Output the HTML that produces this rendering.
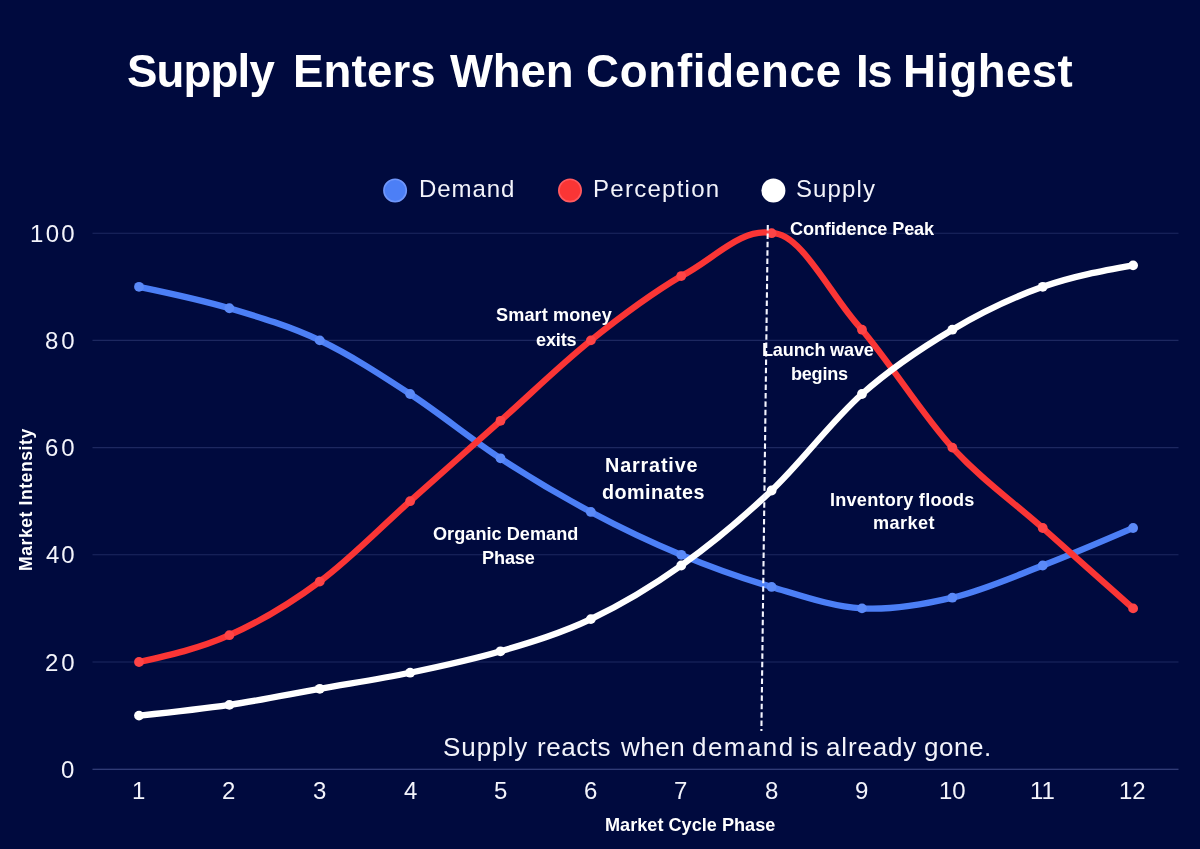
<!DOCTYPE html>
<html><head><meta charset="utf-8"><title>Supply Enters When Confidence Is Highest</title>
<style>
html,body{margin:0;padding:0;background:#000a3e;}
body{width:1200px;height:849px;position:relative;overflow:hidden;font-family:"Liberation Sans",sans-serif;color:#fff;}
.t{position:absolute;white-space:nowrap;line-height:1;transform-origin:0 0;will-change:transform;}
.b{font-weight:bold;}
</style></head><body>
<svg width="1200" height="849" viewBox="0 0 1200 849" style="position:absolute;left:0;top:0">
<line x1="92.5" x2="1178.5" y1="769.20" y2="769.20" stroke="#414d8a" stroke-width="1.1"/>
<line x1="92.5" x2="1178.5" y1="662.00" y2="662.00" stroke="#1d2860" stroke-width="1.1"/>
<line x1="92.5" x2="1178.5" y1="554.80" y2="554.80" stroke="#1d2860" stroke-width="1.1"/>
<line x1="92.5" x2="1178.5" y1="447.60" y2="447.60" stroke="#1d2860" stroke-width="1.1"/>
<line x1="92.5" x2="1178.5" y1="340.40" y2="340.40" stroke="#1d2860" stroke-width="1.1"/>
<line x1="92.5" x2="1178.5" y1="233.20" y2="233.20" stroke="#1d2860" stroke-width="1.1"/>
<path d="M139.00,286.80 C169.12,293.05 199.25,299.31 229.37,308.24 C259.50,317.17 289.62,326.11 319.75,340.40 C349.87,354.69 379.99,374.35 410.12,394.00 C440.24,413.65 470.37,438.67 500.49,458.32 C530.62,477.97 560.74,495.84 590.86,511.92 C620.99,528.00 651.11,542.29 681.24,554.80 C711.36,567.31 741.48,578.03 771.61,586.96 C801.73,595.89 831.86,606.61 861.98,608.40 C892.11,610.19 922.23,604.83 952.35,597.68 C982.48,590.53 1012.60,577.13 1042.73,565.52 C1072.85,553.91 1102.98,540.95 1133.10,528.00" fill="none" stroke="#4c7ff6" stroke-width="6.3" stroke-linecap="round" stroke-linejoin="round"/>
<circle cx="139.00" cy="286.80" r="4.9" fill="#5b8af8"/><circle cx="229.37" cy="308.24" r="4.9" fill="#5b8af8"/><circle cx="319.75" cy="340.40" r="4.9" fill="#5b8af8"/><circle cx="410.12" cy="394.00" r="4.9" fill="#5b8af8"/><circle cx="500.49" cy="458.32" r="4.9" fill="#5b8af8"/><circle cx="590.86" cy="511.92" r="4.9" fill="#5b8af8"/><circle cx="681.24" cy="554.80" r="4.9" fill="#5b8af8"/><circle cx="771.61" cy="586.96" r="4.9" fill="#5b8af8"/><circle cx="861.98" cy="608.40" r="4.9" fill="#5b8af8"/><circle cx="952.35" cy="597.68" r="4.9" fill="#5b8af8"/><circle cx="1042.73" cy="565.52" r="4.9" fill="#5b8af8"/><circle cx="1133.10" cy="528.00" r="4.9" fill="#5b8af8"/>
<path d="M139.00,662.00 C169.12,655.30 199.25,648.60 229.37,635.20 C259.50,621.80 289.62,603.93 319.75,581.60 C349.87,559.27 379.99,528.00 410.12,501.20 C440.24,474.40 470.37,447.60 500.49,420.80 C530.62,394.00 560.74,364.52 590.86,340.40 C620.99,316.28 651.11,293.95 681.24,276.08 C711.36,261.25 741.48,226.95 771.61,233.20 C801.73,232.13 831.86,298.41 861.98,329.68 C892.11,365.41 922.23,414.55 952.35,447.60 C982.48,480.65 1012.60,501.20 1042.73,528.00 C1072.85,554.80 1102.98,581.60 1133.10,608.40" fill="none" stroke="#fa3535" stroke-width="6.3" stroke-linecap="round" stroke-linejoin="round"/>
<circle cx="139.00" cy="662.00" r="4.9" fill="#fe4446"/><circle cx="229.37" cy="635.20" r="4.9" fill="#fe4446"/><circle cx="319.75" cy="581.60" r="4.9" fill="#fe4446"/><circle cx="410.12" cy="501.20" r="4.9" fill="#fe4446"/><circle cx="500.49" cy="420.80" r="4.9" fill="#fe4446"/><circle cx="590.86" cy="340.40" r="4.9" fill="#fe4446"/><circle cx="681.24" cy="276.08" r="4.9" fill="#fe4446"/><circle cx="771.61" cy="233.20" r="4.9" fill="#fe4446"/><circle cx="861.98" cy="329.68" r="4.9" fill="#fe4446"/><circle cx="952.35" cy="447.60" r="4.9" fill="#fe4446"/><circle cx="1042.73" cy="528.00" r="4.9" fill="#fe4446"/><circle cx="1133.10" cy="608.40" r="4.9" fill="#fe4446"/>
<path d="M139.00,715.60 C169.12,712.47 199.25,709.35 229.37,704.88 C259.50,700.41 289.62,694.16 319.75,688.80 C349.87,683.44 379.99,678.97 410.12,672.72 C440.24,666.47 470.37,660.21 500.49,651.28 C530.62,642.35 560.74,633.41 590.86,619.12 C620.99,604.83 651.11,586.96 681.24,565.52 C711.36,544.08 741.48,519.07 771.61,490.48 C801.73,461.89 831.86,420.80 861.98,394.00 C892.11,367.20 922.23,347.55 952.35,329.68 C982.48,311.81 1012.60,297.52 1042.73,286.80 C1072.85,276.08 1102.98,270.72 1133.10,265.36" fill="none" stroke="#ffffff" stroke-width="6.3" stroke-linecap="round" stroke-linejoin="round"/>
<circle cx="139.00" cy="715.60" r="4.9" fill="#ffffff"/><circle cx="229.37" cy="704.88" r="4.9" fill="#ffffff"/><circle cx="319.75" cy="688.80" r="4.9" fill="#ffffff"/><circle cx="410.12" cy="672.72" r="4.9" fill="#ffffff"/><circle cx="500.49" cy="651.28" r="4.9" fill="#ffffff"/><circle cx="590.86" cy="619.12" r="4.9" fill="#ffffff"/><circle cx="681.24" cy="565.52" r="4.9" fill="#ffffff"/><circle cx="771.61" cy="490.48" r="4.9" fill="#ffffff"/><circle cx="861.98" cy="394.00" r="4.9" fill="#ffffff"/><circle cx="952.35" cy="329.68" r="4.9" fill="#ffffff"/><circle cx="1042.73" cy="286.80" r="4.9" fill="#ffffff"/><circle cx="1133.10" cy="265.36" r="4.9" fill="#ffffff"/>
<line x1="767.8" y1="225" x2="761.4" y2="731" stroke="#f4f5ff" stroke-width="2.1" stroke-dasharray="5.5 2.9"/>
<circle cx="395.1" cy="190.5" r="11.2" fill="#4c7ff6" stroke="#6f96fa" stroke-width="1.6"/><circle cx="570" cy="190.4" r="11.2" fill="#fa3535" stroke="#ff5a60" stroke-width="1.6"/><circle cx="773.4" cy="190.5" r="12" fill="#ffffff"/>
</svg>

<div class="t b" style="left:126.60px;top:48.61px;font-size:45.6px;line-height:45.6px;letter-spacing:-0.85px;">Supply</div>
<div class="t b" style="left:293.00px;top:48.61px;font-size:45.6px;line-height:45.6px;letter-spacing:0.15px;">Enters</div>
<div class="t b" style="left:450.00px;top:48.61px;font-size:45.6px;line-height:45.6px;letter-spacing:-0.18px;">When</div>
<div class="t b" style="left:586.30px;top:48.61px;font-size:45.6px;line-height:45.6px;letter-spacing:0.76px;">Confidence</div>
<div class="t b" style="left:855.60px;top:48.61px;font-size:45.6px;line-height:45.6px;letter-spacing:-1.50px;">Is</div>
<div class="t b" style="left:903.00px;top:48.61px;font-size:45.6px;line-height:45.6px;letter-spacing:0.40px;">Highest</div>
<div class="t" style="left:419.00px;top:177.21px;font-size:24px;line-height:24px;letter-spacing:0.93px;color:#f3f4fb;">Demand</div>
<div class="t" style="left:593.00px;top:177.21px;font-size:24px;line-height:24px;letter-spacing:1.27px;color:#f3f4fb;">Perception</div>
<div class="t" style="left:796.40px;top:177.21px;font-size:24px;line-height:24px;letter-spacing:1.10px;color:#f3f4fb;">Supply</div>
<div class="t" style="left:61.30px;top:757.80px;font-size:24px;line-height:24px;color:#f3f4fb;">0</div>
<div class="t" style="left:45.00px;top:650.61px;font-size:24px;line-height:24px;letter-spacing:2.95px;color:#f3f4fb;">20</div>
<div class="t" style="left:46.00px;top:543.40px;font-size:24px;line-height:24px;letter-spacing:1.95px;color:#f3f4fb;">40</div>
<div class="t" style="left:45.00px;top:436.21px;font-size:24px;line-height:24px;letter-spacing:2.95px;color:#f3f4fb;">60</div>
<div class="t" style="left:45.00px;top:329.01px;font-size:24px;line-height:24px;letter-spacing:2.95px;color:#f3f4fb;">80</div>
<div class="t" style="left:30.25px;top:221.80px;font-size:24px;line-height:24px;letter-spacing:2.28px;color:#f3f4fb;">100</div>
<div class="t" style="left:132.00px;top:779.30px;font-size:24px;line-height:24px;color:#f3f4fb;">1</div>
<div class="t" style="left:222.37px;top:779.30px;font-size:24px;line-height:24px;color:#f3f4fb;">2</div>
<div class="t" style="left:313.25px;top:779.30px;font-size:24px;line-height:24px;color:#f3f4fb;">3</div>
<div class="t" style="left:403.62px;top:779.30px;font-size:24px;line-height:24px;color:#f3f4fb;">4</div>
<div class="t" style="left:493.99px;top:779.30px;font-size:24px;line-height:24px;color:#f3f4fb;">5</div>
<div class="t" style="left:583.86px;top:779.30px;font-size:24px;line-height:24px;color:#f3f4fb;">6</div>
<div class="t" style="left:674.24px;top:779.30px;font-size:24px;line-height:24px;color:#f3f4fb;">7</div>
<div class="t" style="left:764.61px;top:779.30px;font-size:24px;line-height:24px;color:#f3f4fb;">8</div>
<div class="t" style="left:854.98px;top:779.30px;font-size:24px;line-height:24px;color:#f3f4fb;">9</div>
<div class="t" style="left:938.68px;top:779.30px;font-size:24px;line-height:24px;color:#f3f4fb;">10</div>
<div class="t" style="left:1029.94px;top:779.30px;font-size:24px;line-height:24px;color:#f3f4fb;">11</div>
<div class="t" style="left:1119.43px;top:779.30px;font-size:24px;line-height:24px;color:#f3f4fb;">12</div>
<div class="t b" style="left:790.00px;top:219.51px;font-size:18.1px;line-height:18.1px;letter-spacing:-0.12px;">Confidence Peak</div>
<div class="t b" style="left:496.30px;top:306.31px;font-size:18.1px;line-height:18.1px;letter-spacing:0.11px;">Smart money</div>
<div class="t b" style="left:536.30px;top:330.51px;font-size:18.1px;line-height:18.1px;letter-spacing:-0.17px;">exits</div>
<div class="t b" style="left:762.00px;top:340.51px;font-size:18.1px;line-height:18.1px;letter-spacing:-0.18px;">Launch wave</div>
<div class="t b" style="left:791.00px;top:365.01px;font-size:18.1px;line-height:18.1px;letter-spacing:-0.25px;">begins</div>
<div class="t b" style="left:604.50px;top:455.75px;font-size:19.8px;line-height:19.8px;letter-spacing:0.84px;">Narrative</div>
<div class="t b" style="left:602.00px;top:482.75px;font-size:19.8px;line-height:19.8px;letter-spacing:0.45px;">dominates</div>
<div class="t b" style="left:432.75px;top:525.01px;font-size:18.1px;line-height:18.1px;letter-spacing:0.04px;">Organic Demand</div>
<div class="t b" style="left:481.50px;top:549.26px;font-size:18.1px;line-height:18.1px;letter-spacing:-0.12px;">Phase</div>
<div class="t b" style="left:829.50px;top:490.51px;font-size:18.1px;line-height:18.1px;letter-spacing:0.24px;">Inventory floods</div>
<div class="t b" style="left:872.75px;top:514.26px;font-size:18.1px;line-height:18.1px;letter-spacing:0.44px;">market</div>
<div class="t b" style="left:605.20px;top:816.22px;font-size:18.1px;line-height:18.1px;letter-spacing:0.02px;">Market Cycle Phase</div>
<div class="t" style="left:442.75px;top:733.91px;font-size:26px;line-height:26px;letter-spacing:0.95px;color:#f3f4fb;">Supply</div>
<div class="t" style="left:537.00px;top:733.91px;font-size:26px;line-height:26px;letter-spacing:0.54px;color:#f3f4fb;">reacts</div>
<div class="t" style="left:620.50px;top:733.91px;font-size:26px;line-height:26px;letter-spacing:0.52px;color:#f3f4fb;">when</div>
<div class="t" style="left:692.30px;top:733.91px;font-size:26px;line-height:26px;letter-spacing:1.44px;color:#f3f4fb;">demand</div>
<div class="t" style="left:800.30px;top:733.91px;font-size:26px;line-height:26px;letter-spacing:-0.38px;color:#f3f4fb;">is</div>
<div class="t" style="left:825.70px;top:733.91px;font-size:26px;line-height:26px;letter-spacing:0.84px;color:#f3f4fb;">already</div>
<div class="t" style="left:924.30px;top:733.91px;font-size:26px;line-height:26px;letter-spacing:0.54px;color:#f3f4fb;">gone.</div>
<div class="t b" id="ylab" style="left:18.00px;top:570.60px;font-size:17.6px;line-height:17.6px;letter-spacing:0.55px;transform:rotate(-90deg);">Market Intensity</div>
</body></html>
